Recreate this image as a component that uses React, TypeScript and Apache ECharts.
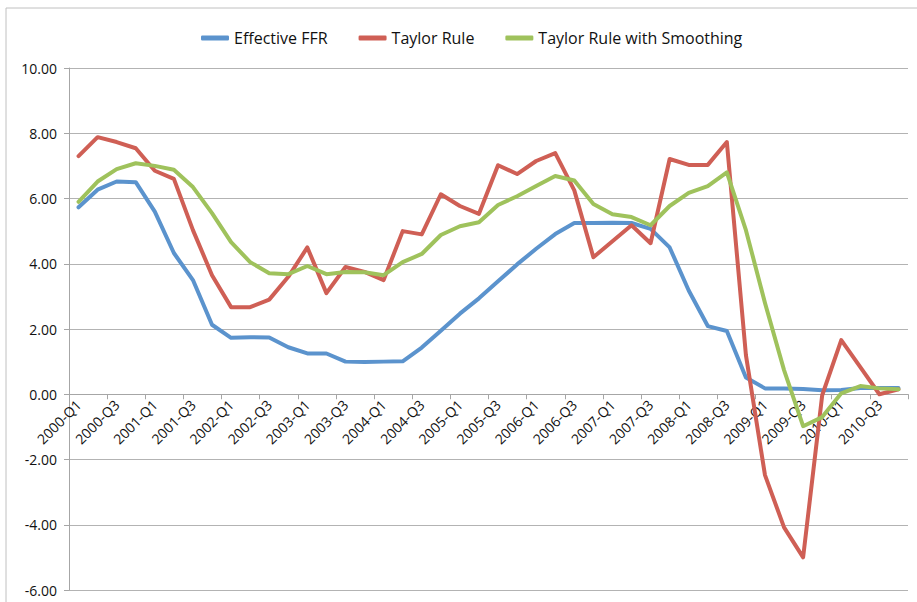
import React, { useEffect, useRef } from "react";
import * as echarts from "echarts";

const years = ["2000","2001","2002","2003","2004","2005","2006","2007","2008","2009","2010"];
const quarters = ["Q1","Q2","Q3","Q4"];
const categories: string[] = [];
years.forEach((y) => quarters.forEach((q) => categories.push(`${y}-${q}`)));

const effectiveFFR = [
  5.73, 6.27, 6.52, 6.50, 5.60, 4.33, 3.50, 2.13, 1.73, 1.75, 1.74, 1.44,
  1.25, 1.25, 1.00, 0.99, 1.00, 1.01, 1.43, 1.95, 2.47, 2.94, 3.46, 3.98,
  4.46, 4.91, 5.25, 5.25, 5.26, 5.25, 5.07, 4.50, 3.18, 2.09, 1.94, 0.51,
  0.18, 0.18, 0.16, 0.12, 0.13, 0.19, 0.19, 0.19,
];
const taylorRule = [
  7.30, 7.88, 7.73, 7.54, 6.85, 6.60, 5.03, 3.65, 2.67, 2.67, 2.90, 3.60,
  4.50, 3.10, 3.90, 3.75, 3.50, 5.00, 4.90, 6.13, 5.77, 5.53, 7.02, 6.75,
  7.15, 7.39, 6.25, 4.20, 4.69, 5.18, 4.63, 7.21, 7.03, 7.03, 7.73, 1.20,
  -2.48, -4.08, -5.00, -0.03, 1.66, 0.83, 0.00, 0.15,
];
const taylorSmoothed = [
  5.90, 6.52, 6.90, 7.08, 7.00, 6.88, 6.35, 5.55, 4.66, 4.05, 3.71, 3.68,
  3.93, 3.68, 3.75, 3.74, 3.65, 4.05, 4.30, 4.88, 5.15, 5.27, 5.80, 6.07,
  6.38, 6.69, 6.55, 5.83, 5.52, 5.43, 5.18, 5.77, 6.17, 6.38, 6.80, 5.03,
  2.80, 0.74, -0.98, -0.70, 0.03, 0.25, 0.18, 0.15,
];
const seriesNames = ["Effective FFR", "Taylor Rule", "Taylor Rule with Smoothing"];
const colors = ["#5b93cd", "#cf5f55", "#9fc25c"];

const FONT = "'Open Sans', 'Liberation Sans', sans-serif";

const GRID_TOP = 68;
const GRID_BOTTOM = 12;
const CHART_H = 602;
const Y_MIN = -6;
const Y_MAX = 10;

export default function App() {
  const ref = useRef<HTMLDivElement>(null);
  useEffect(() => {
    if (!ref.current) return;
    const chart = echarts.init(ref.current, undefined, { renderer: "svg" });
    const dataSets = [effectiveFFR, taylorRule, taylorSmoothed];
    const plotH = CHART_H - GRID_TOP - GRID_BOTTOM;
    // move the category axis up to the zero line of the value axis
    const zeroOffset = -plotH * (0 - Y_MIN) / (Y_MAX - Y_MIN);
    chart.setOption({
      animation: false,
      backgroundColor: "#ffffff",
      color: colors,
      graphic: [
        {
          type: "rect",
          shape: { x: 6, y: 8, width: 930, height: 620 },
          style: { fill: "none", stroke: "#c0c0c0", lineWidth: 1 },
          silent: true,
        },
      ],
      legend: {
        top: 25,
        left: 196,
        itemWidth: 28,
        itemHeight: 5,
        itemGap: 31,
        icon: "roundRect",
        textStyle: { fontFamily: FONT, fontSize: 16, color: "#111" },
        data: seriesNames,
      },
      grid: {
        left: 69,
        right: 9,
        top: GRID_TOP,
        bottom: GRID_BOTTOM,
        containLabel: false,
        outerBoundsMode: "none",
      },
      xAxis: {
        type: "category",
        data: categories,
        boundaryGap: true,
        offset: zeroOffset,
        axisLine: { onZero: false, lineStyle: { color: "#a6a6a6", width: 1 } },
        axisTick: { show: true, length: 5, lineStyle: { color: "#a6a6a6" } },
        axisLabel: {
          interval: 1,
          rotate: 45,
          margin: 8,
          fontFamily: FONT,
          fontSize: 14,
          color: "#111",
        },
        splitLine: { show: false },
      },
      yAxis: {
        type: "value",
        min: Y_MIN,
        max: Y_MAX,
        interval: 2,
        axisLine: { show: true, lineStyle: { color: "#a6a6a6", width: 1 } },
        axisTick: { show: true, length: 5, lineStyle: { color: "#a6a6a6" } },
        axisLabel: {
          formatter: (v: number) => v.toFixed(2),
          fontFamily: FONT,
          fontSize: 14,
          color: "#111",
          margin: 12,
        },
        splitLine: { show: true, lineStyle: { color: "#b3b3b3", width: 1 } },
      },
      series: seriesNames.map((name, i) => ({
        name,
        type: "line",
        data: dataSets[i],
        showSymbol: false,
        symbol: "none",
        lineStyle: { width: 4, color: colors[i], join: "round", cap: "round" },
        itemStyle: { color: colors[i] },
        z: 2 + i,
      })),
    });
    return () => chart.dispose();
  }, []);
  return <div ref={ref} style={{ width: 917, height: 602, position: "absolute", left: 0, top: 0 }} />;
}
